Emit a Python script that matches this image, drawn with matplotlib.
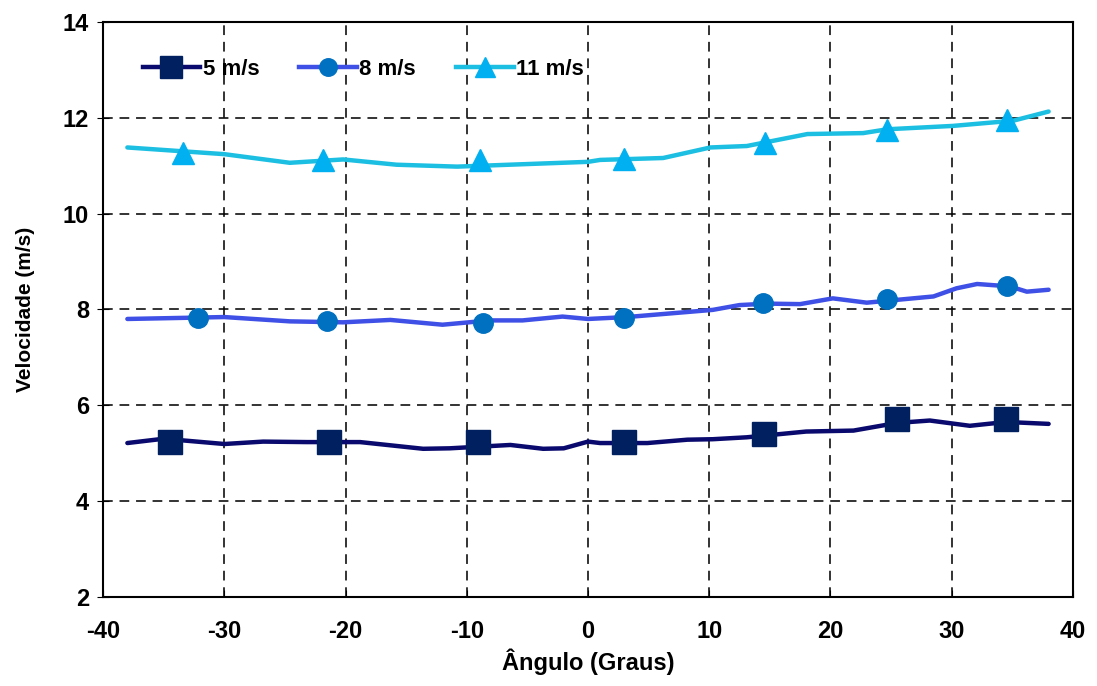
import matplotlib.pyplot as plt
from matplotlib.lines import Line2D

plt.rcParams['font.family'] = ['Liberation Sans Narrow', 'Liberation Sans', 'DejaVu Sans']
plt.rcParams['font.weight'] = 'bold'
plt.rcParams['axes.unicode_minus'] = False

# curves (angle in degrees, speed in m/s)
x_5 = [-38, -35, -30, -26.8, -23.2, -18.8, -13.6, -11.4, -6.4, -3.7, -2, 0, 1, 4.9, 8.2, 10.3,
       13.1, 18, 21.9, 25.5, 28.2, 31.5, 34.5, 38]
y_5 = [5.21, 5.30, 5.19, 5.24, 5.23, 5.23, 5.09, 5.10, 5.17, 5.09, 5.10, 5.24, 5.21, 5.21, 5.28, 5.29,
       5.33, 5.45, 5.47, 5.63, 5.68, 5.57, 5.65, 5.61]

x_8 = [-38, -30, -24.6, -20.2, -16.3, -12, -8.1, -5.4, -2.1, 0, 3.2, 10.3, 12.5, 14.8, 17.5, 20.2,
       23, 26.8, 28.5, 30.4, 32.1, 34.8, 36.2, 38]
y_8 = [7.80, 7.84, 7.75, 7.73, 7.78, 7.68, 7.77, 7.77, 7.85, 7.80, 7.84, 7.99, 8.09, 8.12, 8.11, 8.23,
       8.14, 8.23, 8.27, 8.44, 8.53, 8.48, 8.37, 8.41]

x_11 = [-38, -30, -24.6, -20.2, -15.8, -10.8, -5.4, 0, 1, 6.2, 10.1, 13.1, 18.1, 22.7, 24.7, 30.1,
        35.1, 38]
y_11 = [11.38, 11.24, 11.06, 11.13, 11.02, 10.98, 11.03, 11.08, 11.12, 11.16, 11.38, 11.41, 11.66,
        11.68, 11.76, 11.83, 11.94, 12.13]

# markers
mx_5 = [-34.5, -21.4, -9.1, 3.0, 14.5, 25.5, 34.5]
my_5 = [5.24, 5.24, 5.24, 5.24, 5.40, 5.72, 5.72]
mx_8 = [-32.2, -21.5, -8.7, 3.0, 14.4, 24.7, 34.6]
my_8 = [7.82, 7.76, 7.72, 7.82, 8.14, 8.22, 8.49]
mx_11 = [-33.4, -21.9, -8.9, 3.0, 14.6, 24.7, 34.6]
my_11 = [11.27, 11.12, 11.12, 11.14, 11.48, 11.75, 11.95]

labels = ['5 m/s', '8 m/s', '11 m/s']
line_colors = ['#0a0a6e', '#3f50e6', '#1cbfe2']
marker_colors = ['#002060', '#0070c0', '#00b0f0']
markers = ['s', 'o', '^']
msizes = [17, 14, 16]

fig = plt.figure(figsize=(10.97, 6.86), dpi=100)
ax = fig.add_axes([0.094, 0.13, 0.884, 0.838])

series = [(x_5, y_5, mx_5, my_5), (x_8, y_8, mx_8, my_8), (x_11, y_11, mx_11, my_11)]
handles = []
for i, (lx, ly, px, py) in enumerate(series):
    ax.plot(lx, ly, color=line_colors[i], lw=3.2, solid_capstyle='round',
            solid_joinstyle='round', zorder=3)
    ax.plot(px, py, ls='none', marker=markers[i], ms=msizes[i], color=marker_colors[i], zorder=4)
    handles.append(Line2D([], [], color=line_colors[i], lw=3.2, marker=markers[i],
                          ms=msizes[i] * 0.9, mfc=marker_colors[i], mec=marker_colors[i]))

ax.set_xlim(-40, 40)
ax.set_ylim(2, 14)
ax.set_xticks(range(-40, 41, 10))
ax.set_yticks(range(2, 15, 2))
ax.grid(True, color='black', ls=(0, (5, 3.5)), lw=1.4, alpha=0.8)
ax.tick_params(axis='x', direction='in', length=5, labelsize=17, pad=17)
ax.tick_params(axis='y', direction='inout', length=8, labelsize=17, pad=6)
for s in ax.spines.values():
    s.set_linewidth(1.5)

ax.set_xlabel('Ângulo (Graus)', fontsize=17, fontweight='bold', labelpad=4)
ax.set_ylabel('Velocidade (m/s)', fontsize=15, fontweight='bold', labelpad=20)

leg = ax.legend(handles, labels, loc='upper left', bbox_to_anchor=(0.02, 0.97), ncol=3,
                frameon=False, fontsize=16, handlelength=2.6, handletextpad=0.1,
                columnspacing=1.8)

fig.savefig('out.png', dpi=100)
